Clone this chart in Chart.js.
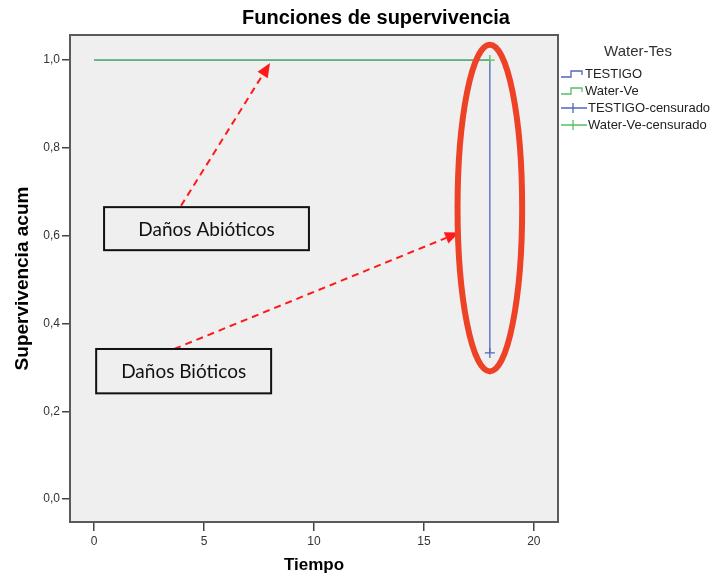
<!DOCTYPE html>
<html>
<head>
<meta charset="utf-8">
<script src="https://cdn.jsdelivr.net/npm/chart.js@4"></script>
<style>
  body { margin: 0; background: #fff; }
  #wrap { width: 713px; height: 576px; }
</style>
</head>
<body>
<div id="wrap"><canvas id="surv_chart" width="713" height="576"></canvas></div>
<script>
// data
const times = [0, 18];
const testigo_surv = [1.0, 0.333];
const water_surv = [1.0, 1.0];
const testigo_cens_t = [18];
const testigo_cens_s = [0.333];
const water_cens_t = [18];
const water_cens_s = [1.0];

const x_ticks = [0, 5, 10, 15, 20];
const y_ticks = [0, 0.2, 0.4, 0.6, 0.8, 1.0];

const labels = ["TESTIGO", "Water-Ve", "TESTIGO-censurado", "Water-Ve-censurado"];
const blue = "#5265bd";
const green = "#55c065";

// notes on the chart (in data units)
const notes = [
    { text: "Daños Abióticos", x0: 0.45, x1: 9.77, y0: 0.665, y1: 0.567, from: [3.95, 0.668], to: [8.0, 0.993] },
    { text: "Daños Bióticos", x0: 0.09, x1: 8.05, y0: 0.342, y1: 0.241, from: [3.64, 0.342], to: [16.6, 0.607] }
];
const ring = { x: 18.0, y: 0.663, rx: 1.47, ry: 0.372 };

function pts(xs, ys) {
    return xs.map((x, i) => ({ x: x, y: ys[i] }));
}

const ctx = document.getElementById("surv_chart").getContext("2d");

const extras = {
    id: "extras",
    beforeDraw(chart) {
        const a = chart.chartArea;
        const c = chart.ctx;
        c.save();
        c.fillStyle = "#fff";
        c.fillRect(0, 0, chart.width, chart.height);
        c.fillStyle = "#efefef";
        c.fillRect(a.left, a.top, a.right - a.left, a.bottom - a.top);
        c.restore();
    },
    afterDatasetsDraw(chart) {
        const a = chart.chartArea;
        const c = chart.ctx;
        c.save();
        c.strokeStyle = "#5a5a5a";
        c.lineWidth = 2;
        c.strokeRect(a.left, a.top, a.right - a.left, a.bottom - a.top);
        c.restore();
    },
    afterDraw(chart) {
        const c = chart.ctx;
        const xs = chart.scales.x, ys = chart.scales.y;
        const px = v => xs.getPixelForValue(v);
        const py = v => ys.getPixelForValue(v);
        c.save();

        // title
        c.fillStyle = "#000";
        c.font = "bold 20px 'Liberation Sans', Arial";
        c.textAlign = "center";
        c.textBaseline = "middle";
        c.fillText("Funciones de supervivencia", 376, 18);

        // legend
        c.fillStyle = "#333";
        c.font = "15px 'Liberation Sans', Arial";
        c.fillText("Water-Tes", 638, 52);
        const colors = [blue, green, blue, green];
        c.textAlign = "left";
        c.font = "13px 'Liberation Sans', Arial";
        labels.forEach((lab, i) => {
            const y = 74 + i * 17;
            const x = 561;
            c.strokeStyle = colors[i];
            c.lineWidth = 1.3;
            c.beginPath();
            if (i < 2) {
                c.moveTo(x, y + 3); c.lineTo(x + 10, y + 3); c.lineTo(x + 10, y - 3);
                c.lineTo(x + 21, y - 3); c.lineTo(x + 21, y + 1);
            } else {
                c.moveTo(x, y); c.lineTo(x + 26, y);
                c.moveTo(x + 12, y - 5); c.lineTo(x + 12, y + 5);
            }
            c.stroke();
            c.fillStyle = "#222";
            c.fillText(lab, i < 2 ? x + 24 : x + 27, y);
        });

        // arrows
        c.strokeStyle = "#ff1a1a";
        c.fillStyle = "#ff1a1a";
        c.lineWidth = 2;
        notes.forEach(n => {
            const x0 = px(n.from[0]), y0 = py(n.from[1]);
            const x1 = px(n.to[0]), y1 = py(n.to[1]);
            const ang = Math.atan2(y1 - y0, x1 - x0);
            const hl = 14;
            c.setLineDash([7, 5]);
            c.beginPath();
            c.moveTo(x0, y0);
            c.lineTo(x1 - hl * Math.cos(ang), y1 - hl * Math.sin(ang));
            c.stroke();
            c.setLineDash([]);
            c.beginPath();
            c.moveTo(x1, y1);
            c.lineTo(x1 - hl * Math.cos(ang) + 6 * Math.sin(ang), y1 - hl * Math.sin(ang) - 6 * Math.cos(ang));
            c.lineTo(x1 - hl * Math.cos(ang) - 6 * Math.sin(ang), y1 - hl * Math.sin(ang) + 6 * Math.cos(ang));
            c.closePath();
            c.fill();
        });

        // boxes
        notes.forEach(n => {
            const l = px(n.x0), r = px(n.x1), t = py(n.y0), b = py(n.y1);
            c.fillStyle = "#efefef";
            c.fillRect(l, t, r - l, b - t);
            c.strokeStyle = "#111";
            c.lineWidth = 2;
            c.strokeRect(l, t, r - l, b - t);
            c.fillStyle = "#111";
            c.font = "19px Lato, 'Open Sans', sans-serif";
            c.textAlign = "center";
            c.textBaseline = "middle";
            c.fillText(n.text, (l + r) / 2, (t + b) / 2 + 1);
        });

        // red ring
        c.strokeStyle = "#ee4227";
        c.lineWidth = 6;
        c.beginPath();
        c.ellipse(px(ring.x), py(ring.y), Math.abs(px(ring.x + ring.rx) - px(ring.x)),
            Math.abs(py(ring.y + ring.ry) - py(ring.y)), 0, 0, Math.PI * 2);
        c.stroke();
        c.restore();
    }
};

const surv_chart = new Chart(ctx, {
    type: "scatter",
    data: {
        datasets: [
            {
                label: labels[1],
                data: pts(times, water_surv),
                showLine: true,
                borderColor: green,
                borderWidth: 1.3,
                pointRadius: 0,
                order: 0
            },
            {
                label: labels[0],
                data: pts(times, testigo_surv),
                showLine: true,
                stepped: "before",
                borderColor: blue,
                borderWidth: 1.3,
                pointRadius: 0,
                order: 1
            },
            {
                label: labels[2],
                data: pts(testigo_cens_t, testigo_cens_s),
                pointStyle: "cross",
                pointRadius: 5,
                borderColor: blue,
                borderWidth: 1.3,
                order: 0
            },
            {
                label: labels[3],
                data: pts(water_cens_t, water_cens_s),
                pointStyle: "cross",
                pointRadius: 5,
                borderColor: green,
                borderWidth: 1.3,
                order: 0
            }
        ]
    },
    options: {
        responsive: false,
        animation: false,
        layout: { padding: { top: 35, right: 155, bottom: 0, left: 0 } },
        plugins: {
            legend: { display: false },
            tooltip: { enabled: false }
        },
        scales: {
            x: {
                type: "linear",
                min: -1.1,
                max: 21.1,
                afterFit: s => { s.height = 54; },
                afterBuildTicks: s => { s.ticks = x_ticks.map(v => ({ value: v })); },
                grid: { drawOnChartArea: false, drawTicks: true, tickLength: 9, color: "#444", lineWidth: 1.5 },
                border: { display: false },
                ticks: { color: "#333", font: { family: "'Liberation Sans', Arial", size: 12 }, padding: 3 },
                title: {
                    display: true,
                    text: "Tiempo",
                    color: "#000",
                    font: { family: "'Liberation Sans', Arial", size: 17, weight: "bold" },
                    padding: { top: 0, bottom: 0 }
                }
            },
            y: {
                type: "linear",
                min: -0.052,
                max: 1.057,
                afterFit: s => { s.width = 70; },
                afterBuildTicks: s => { s.ticks = y_ticks.map(v => ({ value: v })); },
                grid: { drawOnChartArea: false, drawTicks: true, tickLength: 8, color: "#444", lineWidth: 1.5 },
                border: { display: false },
                ticks: {
                    color: "#333",
                    font: { family: "'Liberation Sans', Arial", size: 12 },
                    padding: 2,
                    callback: v => v.toFixed(1).replace(".", ",")
                },
                title: {
                    display: true,
                    text: "Supervivencia acum",
                    color: "#000",
                    font: { family: "'Liberation Sans', Arial", size: 19, weight: "bold" },
                    padding: { top: 11, bottom: 0 }
                }
            }
        }
    },
    plugins: [extras]
});
</script>
</body>
</html>
